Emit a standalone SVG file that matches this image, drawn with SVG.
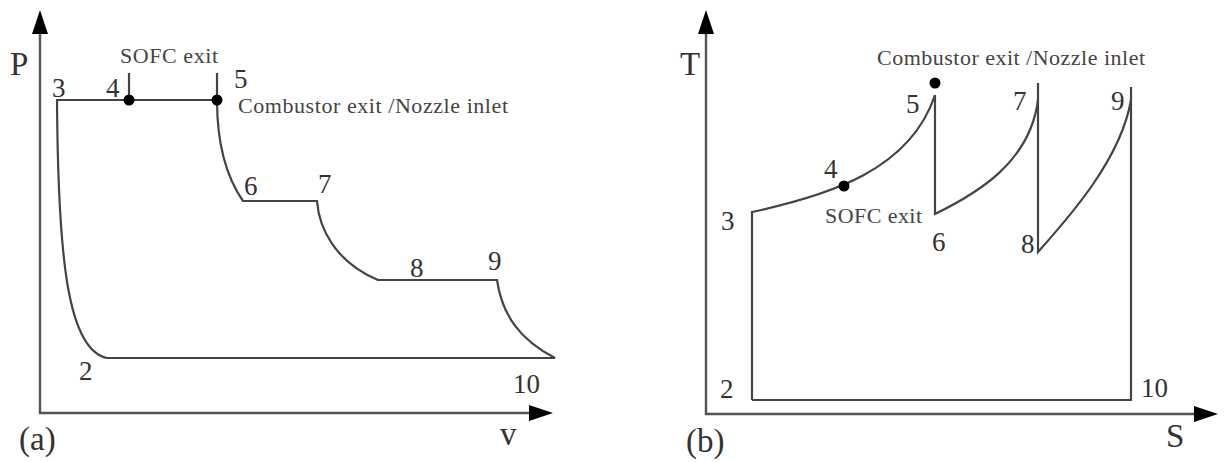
<svg xmlns="http://www.w3.org/2000/svg" width="1227" height="462" viewBox="0 0 1227 462">
<defs>
<style>
.ax{stroke:#555;stroke-width:2.4;fill:none}
.cy{stroke:#444;stroke-width:2.2;fill:none;stroke-linejoin:miter}
.num{font-family:"Liberation Serif","Times New Roman",serif;font-size:27px;fill:#333}
.lbl{font-family:"Liberation Serif","Times New Roman",serif;font-size:22px;fill:#444}
.axl{font-family:"Liberation Serif","Times New Roman",serif;font-size:33px;fill:#333}
.dot{fill:#000}
</style>
</defs>
<rect width="1227" height="462" fill="#fff"/>

<!-- Panel (a): P-v diagram -->
<g id="axes-a">
<path class="ax" d="M40,30 V413 H532"/>
<polygon points="40,10 32,34 48,34" fill="#000"/>
<polygon points="553,413 529,405 529,421" fill="#000"/>
<text class="axl" x="10" y="75">P</text>
<text class="axl" x="500" y="445">v</text>
<text class="axl" x="19" y="450">(a)</text>
</g>
<g id="cycle-a">
<path class="cy" d="M217,100 H57 C58,260 68,350 107,358 H555 C520,340 502,315 497,280 H378 C335,262 319,228 317,201 H243 C225,175 217,140 217,100"/>
<path class="cy" d="M129,73 V100 M217,73 V100"/>
</g>
<g id="point-a3"><text class="num" x="52" y="97">3</text></g>
<g id="point-a4"><circle class="dot" cx="129" cy="100" r="5.5"/><text class="num" x="106" y="97">4</text></g>
<g id="point-a5"><circle class="dot" cx="217" cy="100" r="5.5"/><text class="num" x="234" y="88">5</text></g>
<g id="point-a6"><text class="num" x="244" y="195">6</text></g>
<g id="point-a7"><text class="num" x="318" y="193">7</text></g>
<g id="point-a8"><text class="num" x="410" y="277">8</text></g>
<g id="point-a9"><text class="num" x="488" y="270">9</text></g>
<g id="point-a2"><text class="num" x="79" y="380">2</text></g>
<g id="point-a10"><text class="num" x="513" y="393">10</text></g>
<g id="label-a-sofc"><text class="lbl" x="120" y="63" textLength="98">SOFC exit</text></g>
<g id="label-a-comb"><text class="lbl" x="238" y="113" textLength="270">Combustor exit /Nozzle inlet</text></g>

<!-- Panel (b): T-S diagram -->
<g id="axes-b">
<path class="ax" d="M706,30 V414 H1196"/>
<polygon points="706,10 698,34 714,34" fill="#000"/>
<polygon points="1218,414 1194,406 1194,422" fill="#000"/>
<text class="axl" x="680" y="75">T</text>
<text class="axl" x="1166" y="447">S</text>
<text class="axl" x="686" y="452">(b)</text>
</g>
<g id="cycle-b">
<path class="cy" d="M752,400 V212 C830,195 910,170 935,95 V214 C978,193 1030,162 1038,100"/>
<path class="cy" d="M1038,83 V252 C1072,214 1121,158 1131,100"/>
<path class="cy" d="M1131,87 V400 H752"/>
</g>
<g id="point-b3"><text class="num" x="721" y="230">3</text></g>
<g id="point-b4"><circle class="dot" cx="844" cy="186" r="5.5"/><text class="num" x="824" y="178">4</text></g>
<g id="point-b5"><circle class="dot" cx="935" cy="83" r="5.5"/><text class="num" x="906" y="113">5</text></g>
<g id="point-b6"><text class="num" x="932" y="251">6</text></g>
<g id="point-b7"><text class="num" x="1013" y="110">7</text></g>
<g id="point-b8"><text class="num" x="1021" y="253">8</text></g>
<g id="point-b9"><text class="num" x="1111" y="110">9</text></g>
<g id="point-b2"><text class="num" x="720" y="398">2</text></g>
<g id="point-b10"><text class="num" x="1141" y="397">10</text></g>
<g id="label-b-sofc"><text class="lbl" x="825" y="223" textLength="97">SOFC exit</text></g>
<g id="label-b-comb"><text class="lbl" x="877" y="65" textLength="268">Combustor exit /Nozzle inlet</text></g>
</svg>
